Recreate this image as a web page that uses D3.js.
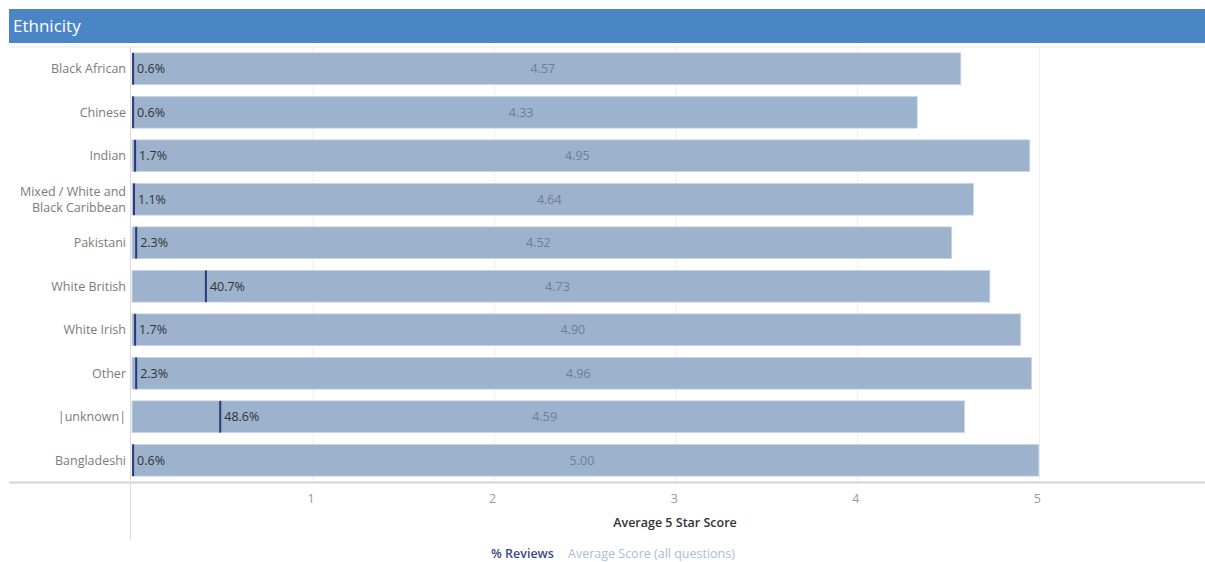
<!DOCTYPE html>
<html>
<head>
<meta charset="utf-8">
<script src="https://cdn.jsdelivr.net/npm/d3@7"></script>
<style>
  body { margin: 0; background: #fff; font-family: "Open Sans", "Noto Sans", sans-serif; }
  svg text { font-family: "Open Sans", "Noto Sans", sans-serif; }
</style>
</head>
<body>
<div id="chart-container"></div>
<script>
// categories, top to bottom
const categories = ["Black African", "Chinese", "Indian", "Mixed / White and|Black Caribbean",
  "Pakistani", "White British", "White Irish", "Other", "|unknown|", "Bangladeshi"];
// average 5 star score per group
const scores = [4.57, 4.33, 4.95, 4.64, 4.52, 4.73, 4.90, 4.96, 4.59, 5.00];
// share of reviews (%)
const reviewPct = [0.6, 0.6, 1.7, 1.1, 2.3, 40.7, 1.7, 2.3, 48.6, 0.6];
const tickValues = [1, 2, 3, 4, 5];

const W = 1205, H = 562;
const plotLeft = 131, plotRight = 1205, plotTop = 47, plotBottom = 482;
const fs = "12.5px";

const svg = d3.select("#chart-container").append("svg")
  .attr("width", W).attr("height", H);

// title bar
svg.append("rect").attr("x", 9).attr("y", 9).attr("width", W - 9).attr("height", 34)
  .attr("fill", "#4a86c5");
svg.append("text").attr("x", 13).attr("y", 32).attr("fill", "#fff")
  .style("font-size", "17px").text("Ethnicity");

const x = d3.scaleLinear().domain([0, 5.915]).range([plotLeft, plotRight]);
const y = d3.scaleBand().domain(categories).range([plotTop, plotBottom]).paddingInner(0.27).paddingOuter(0.135);

// top border line
svg.append("line").attr("x1", 9).attr("x2", W).attr("y1", plotTop).attr("y2", plotTop)
  .attr("stroke", "#e6e6e6").attr("stroke-width", 1);

// vertical gridlines
svg.selectAll(".xgrid").data(tickValues).join("line")
  .attr("x1", d => x(d) + 0.5).attr("x2", d => x(d) + 0.5)
  .attr("y1", plotTop).attr("y2", plotBottom)
  .attr("stroke", "#efefef").attr("stroke-width", 1);

// score bars
svg.selectAll(".bar").data(categories).join("rect")
  .attr("x", x(0) + 1)
  .attr("y", d => y(d))
  .attr("width", (d, i) => x(scores[i]) - x(0) - 1)
  .attr("height", y.bandwidth())
  .attr("fill", "#9cb2cd")
  .attr("stroke", "#c9d6e6").attr("stroke-width", 0.8);

// score labels, centered in bar
svg.selectAll(".score").data(categories).join("text")
  .attr("x", (d, i) => (x(0) + x(scores[i])) / 2 - 3)
  .attr("y", d => y(d) + y.bandwidth() / 2 + 4.5)
  .attr("text-anchor", "middle")
  .attr("fill", "#6e7f97")
  .style("font-size", fs)
  .text((d, i) => scores[i].toFixed(2));

// % reviews markers (share plotted as a fraction on the same axis)
svg.selectAll(".marker").data(categories).join("line")
  .attr("x1", (d, i) => x(reviewPct[i] / 100) + 1)
  .attr("x2", (d, i) => x(reviewPct[i] / 100) + 1)
  .attr("y1", d => y(d)).attr("y2", d => y(d) + y.bandwidth())
  .attr("stroke", "#2b3a78").attr("stroke-width", 2);

svg.selectAll(".pct").data(categories).join("text")
  .attr("x", (d, i) => x(reviewPct[i] / 100) + 5)
  .attr("y", d => y(d) + y.bandwidth() / 2 + 4.5)
  .attr("fill", "#333")
  .style("font-size", fs)
  .text((d, i) => reviewPct[i].toFixed(1) + "%");

// row labels
const rowLabels = svg.selectAll(".rowlab").data(categories).join("text")
  .attr("text-anchor", "end")
  .attr("fill", "#7b7b7b")
  .style("font-size", fs)
  .attr("y", d => y(d) + y.bandwidth() / 2 + 4.5);
rowLabels.each(function (d) {
  const lines = d.startsWith("|") ? [d] : d.split("|");
  const t = d3.select(this);
  lines.forEach((l, j) => {
    t.append("tspan").attr("x", plotLeft - 5)
      .attr("dy", j === 0 ? -(lines.length - 1) * 8 : 16)
      .text(l);
  });
});

// axes lines
svg.append("line").attr("x1", 9).attr("x2", W).attr("y1", plotBottom + 0.5).attr("y2", plotBottom + 0.5)
  .attr("stroke", "#d4d4d4").attr("stroke-width", 2);
svg.append("line").attr("x1", plotLeft - 0.5).attr("x2", plotLeft - 0.5).attr("y1", plotTop).attr("y2", 540)
  .attr("stroke", "#dcdcdc").attr("stroke-width", 1);

// x axis
svg.append("g")
  .attr("transform", `translate(-2, ${plotBottom + 2})`)
  .call(d3.axisBottom(x).tickValues(tickValues).tickSize(0).tickPadding(10).tickFormat(d3.format("d")))
  .call(g => g.select(".domain").remove())
  .selectAll(".tick text")
  .attr("fill", "#9a9a9a")
  .style("font-size", fs);

svg.append("text")
  .attr("x", (plotLeft + plotRight) / 2 + 7).attr("y", 527)
  .attr("text-anchor", "middle")
  .attr("fill", "#333")
  .style("font-size", fs).style("font-weight", "600")
  .text("Average 5 Star Score");

// legend
const legend = svg.append("text").attr("y", 558).style("font-size", fs);
legend.append("tspan").attr("x", 491).attr("fill", "#3b4a86").style("font-weight", "600").text("% Reviews");
legend.append("tspan").attr("x", 568).attr("fill", "#a9bdd7").text("Average Score (all questions)");
</script>
</body>
</html>
